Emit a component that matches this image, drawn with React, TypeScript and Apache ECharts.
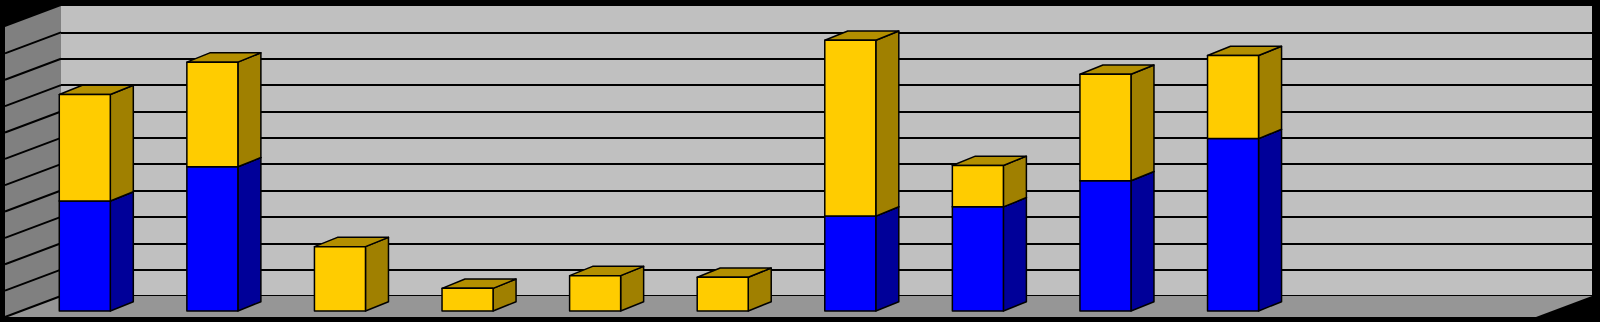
import React, { useEffect, useRef } from "react";
import * as echarts from "echarts";

const categories = ["1", "2", "3", "4", "5", "6", "7", "8", "9", "10", "11", "12"];
const blueValues = [41.7, 54.7, 0, 0, 0, 0, 36, 39.5, 49.4, 65.4];
const yellowValues = [40.4, 39.7, 24.4, 8.6, 13.4, 12.8, 66.7, 15.7, 40.4, 31.5];
const yTicks = [0, 10, 20, 30, 40, 50, 60, 70, 80, 90, 100];

const WALL_DX = -56;
const WALL_DY = 21;
const FRONT_DX = -40;
const FRONT_DY = 15;
const BAR_DX = 23;
const BAR_DY = -9.3;

function makeBarRender(front: string, side: string, top: string) {
  return (params: any, api: any) => {
    const cat = api.value(0);
    const s = api.value(1);
    const e = api.value(2);
    if (!(e > s)) return null;
    const pb = api.coord([cat, s]);
    const pt = api.coord([cat, e]);
    const w = api.size([1, 0])[0] * 0.4;
    const fx = pb[0] + FRONT_DX - w / 2;
    const yb = pb[1] + FRONT_DY;
    const yt = pt[1] + FRONT_DY;
    const stroke = { stroke: "#000", lineWidth: 1.5, lineJoin: "round" };
    return {
      type: "group",
      children: [
        {
          type: "polygon",
          shape: {
            points: [
              [fx + w, yb],
              [fx + w + BAR_DX, yb + BAR_DY],
              [fx + w + BAR_DX, yt + BAR_DY],
              [fx + w, yt],
            ],
          },
          style: { fill: side, ...stroke },
        },
        {
          type: "polygon",
          shape: {
            points: [
              [fx, yt],
              [fx + w, yt],
              [fx + w + BAR_DX, yt + BAR_DY],
              [fx + BAR_DX, yt + BAR_DY],
            ],
          },
          style: { fill: top, ...stroke },
        },
        {
          type: "rect",
          shape: { x: fx, y: yt, width: w, height: yb - yt },
          style: { fill: front, ...stroke },
        },
      ],
    };
  };
}

export default function App() {
  const ref = useRef<HTMLDivElement>(null);
  useEffect(() => {
    document.body.style.margin = "0";
    document.body.style.background = "#000";
    if (!ref.current) return;
    const chart = echarts.init(ref.current, undefined, { renderer: "svg" });
    const blueData = blueValues.map((v, i) => [i, 0, v]);
    const yellowData = yellowValues.map((v, i) => [i, blueValues[i], blueValues[i] + v]);
    chart.setOption({
      animation: false,
      backgroundColor: "#000",
      grid: {
        left: 61,
        right: 8,
        top: 6,
        bottom: 26,
        show: true,
        backgroundColor: "#c0c0c0",
        borderWidth: 0,
      },
      xAxis: {
        type: "category",
        data: categories,
        boundaryGap: true,
        axisLabel: { show: false },
        axisTick: { show: false },
        axisLine: { show: false },
      },
      yAxis: {
        type: "value",
        min: 0,
        max: 110,
        interval: 10,
        axisLabel: { show: false },
        axisTick: { show: false },
        axisLine: { show: false },
        splitLine: {
          show: true,
          showMaxLine: false,
          lineStyle: { color: "#000", width: 2 },
        },
      },
      series: [
        {
          type: "custom",
          name: "walls",
          clip: false,
          silent: true,
          data: [[0, 0]],
          renderItem: (params: any, api: any) => {
            const cs = params.coordSys;
            const gx = cs.x;
            const gy = cs.y;
            const gw = cs.width;
            const gb = cs.y + cs.height;
            const children: any[] = [
              {
                type: "polygon",
                shape: {
                  points: [
                    [gx, gb],
                    [gx + gw, gb],
                    [gx + gw + WALL_DX, gb + WALL_DY],
                    [gx + WALL_DX, gb + WALL_DY],
                  ],
                },
                style: { fill: "#969696" },
              },
              {
                type: "polygon",
                shape: {
                  points: [
                    [gx, gy],
                    [gx, gb],
                    [gx + WALL_DX, gb + WALL_DY],
                    [gx + WALL_DX, gy + WALL_DY],
                  ],
                },
                style: { fill: "#808080" },
              },
            ];
            yTicks.forEach((t) => {
              const y = api.coord([0, t])[1];
              children.push({
                type: "line",
                shape: { x1: gx, y1: y, x2: gx + WALL_DX, y2: y + WALL_DY },
                style: { stroke: "#000", lineWidth: 2 },
              });
            });
            return { type: "group", children };
          },
        },
        {
          type: "custom",
          name: "blue",
          clip: false,
          data: blueData,
          renderItem: makeBarRender("#0000ff", "#000099", "#0000bb"),
        },
        {
          type: "custom",
          name: "yellow",
          clip: false,
          data: yellowData,
          renderItem: makeBarRender("#ffcc00", "#a08000", "#b38f00"),
        },
      ],
    });
    return () => chart.dispose();
  }, []);
  return <div ref={ref} style={{ width: 1600, height: 322 }} />;
}
